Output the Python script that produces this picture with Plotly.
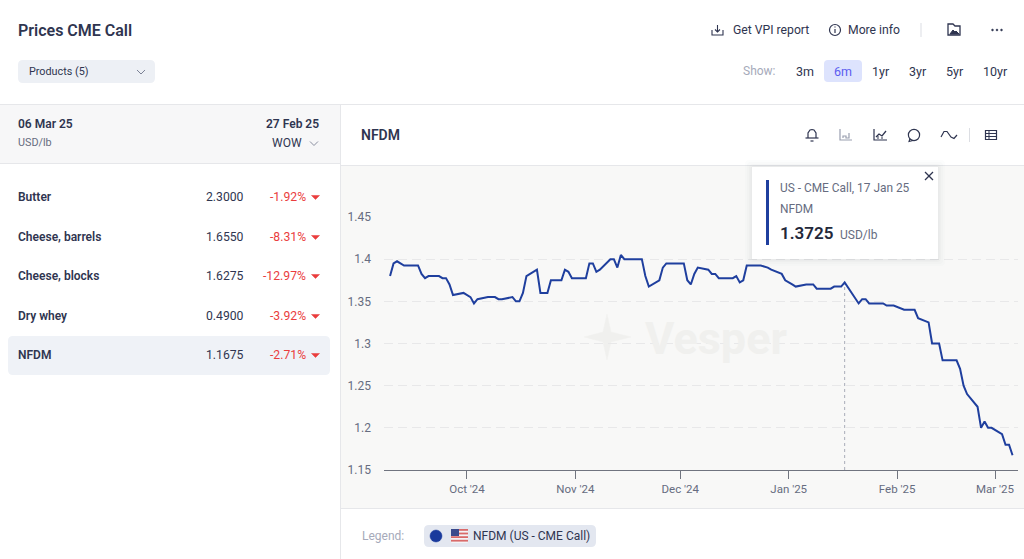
import plotly.graph_objects as go

W, H = 1024, 559

dates = [
    "2024-09-09","2024-09-10","2024-09-11","2024-09-12","2024-09-13","2024-09-16","2024-09-17","2024-09-18",
    "2024-09-19","2024-09-20","2024-09-23","2024-09-24","2024-09-25","2024-09-26","2024-09-27","2024-09-30",
    "2024-10-01","2024-10-02","2024-10-03","2024-10-04","2024-10-07","2024-10-08","2024-10-09","2024-10-10",
    "2024-10-11","2024-10-14","2024-10-15","2024-10-16","2024-10-17","2024-10-18","2024-10-21","2024-10-22",
    "2024-10-23","2024-10-24","2024-10-25","2024-10-28","2024-10-29","2024-10-30","2024-10-31",
    "2024-11-01","2024-11-04","2024-11-05","2024-11-06","2024-11-07","2024-11-08","2024-11-11","2024-11-12",
    "2024-11-13","2024-11-14","2024-11-15","2024-11-18","2024-11-19","2024-11-20","2024-11-21","2024-11-22",
    "2024-11-25","2024-11-26","2024-11-27","2024-11-29",
    "2024-12-02","2024-12-03","2024-12-04","2024-12-05","2024-12-06","2024-12-09","2024-12-10","2024-12-11",
    "2024-12-12","2024-12-13","2024-12-16","2024-12-17","2024-12-18","2024-12-19","2024-12-20","2024-12-23",
    "2024-12-24","2024-12-26","2024-12-27","2024-12-30","2024-12-31",
    "2025-01-02","2025-01-03","2025-01-06","2025-01-07","2025-01-08","2025-01-09","2025-01-10","2025-01-13",
    "2025-01-14","2025-01-15","2025-01-16","2025-01-17","2025-01-21","2025-01-22","2025-01-23","2025-01-24",
    "2025-01-27","2025-01-28","2025-01-29","2025-01-30","2025-01-31",
    "2025-02-03","2025-02-04","2025-02-05","2025-02-06","2025-02-07","2025-02-10","2025-02-11","2025-02-12",
    "2025-02-13","2025-02-14","2025-02-18","2025-02-19","2025-02-20","2025-02-21","2025-02-24","2025-02-25",
    "2025-02-26","2025-02-27","2025-02-28",
    "2025-03-03","2025-03-04","2025-03-05","2025-03-06",
]
nfdm = [
    1.38,1.395,1.3975,1.395,1.3925,1.3925,1.3925,1.3825,
    1.3775,1.38,1.38,1.3775,1.3775,1.37,1.3575,1.36,
    1.3575,1.355,1.3475,1.3525,1.355,1.355,1.355,1.3525,
    1.3525,1.355,1.35,1.35,1.36,1.38,1.3875,1.36,
    1.36,1.36,1.375,1.375,1.3875,1.385,1.3775,
    1.3775,1.3775,1.395,1.395,1.385,1.3875,1.4,1.4,
    1.39,1.405,1.4,1.4,1.4,1.4,1.38,1.3675,
    1.375,1.39,1.395,1.395,
    1.395,1.375,1.37,1.3825,1.39,1.3875,1.3825,1.3825,
    1.3775,1.3775,1.3775,1.38,1.3725,1.375,1.3925,1.3925,
    1.3925,1.39,1.3875,1.3825,1.375,
    1.37,1.3675,1.37,1.37,1.37,1.365,1.365,1.365,
    1.3675,1.3675,1.3675,1.3725,1.3475,1.3525,1.3525,1.3475,
    1.3475,1.3475,1.345,1.345,1.345,
    1.34,1.34,1.34,1.34,1.33,1.325,1.3,1.3,
    1.3,1.28,1.28,1.27,1.25,1.24,1.225,1.2,
    1.2075,1.2,1.2,
    1.1925,1.18,1.18,1.1675,
]
products = ["Butter", "Cheese, barrels", "Cheese, blocks", "Dry whey", "NFDM"]
prices = ["2.3000", "1.6550", "1.6275", "0.4900", "1.1675"]
changes = ["-1.92%", "-8.31%", "-12.97%", "-3.92%", "-2.71%"]
periods = ["3m", "6m", "1yr", "3yr", "5yr", "10yr"]
y_ticks = [1.15, 1.2, 1.25, 1.3, 1.35, 1.4, 1.45]
y_labels = ["1.15", "1.2", "1.25", "1.3", "1.35", "1.4", "1.45"]

FONT = "Roboto, Inter, sans-serif"
INK = "#2f3550"
GREY = "#666c80"
LIGHT = "#a6aaba"
BORDER = "#e6e7ea"
NAVY = "#1f3f9e"
RED = "#ea3d3d"

def X(v): return v / W
def Y(v): return 1 - v / H

shapes, notes = [], []

def build(cmds):
    out = []
    for c in cmds:
        vals = c[1:]
        pts = [f"{X(vals[i]):.5f},{Y(vals[i+1]):.5f}" for i in range(0, len(vals), 2)]
        out.append(c[0] + " ".join(pts))
    return " ".join(out)

def rect(x0, y0, x1, y1, fill, layer="below"):
    shapes.append(dict(type="rect", xref="paper", yref="paper", x0=X(x0), x1=X(x1), y0=Y(y0), y1=Y(y1),
                       fillcolor=fill, line=dict(width=0), layer=layer))

def rrect(x0, y0, x1, y1, r, fill, layer="below"):
    k = [("M", x0 + r, y0), ("L", x1 - r, y0), ("Q", x1, y0, x1, y0 + r), ("L", x1, y1 - r), ("Q", x1, y1, x1 - r, y1),
         ("L", x0 + r, y1), ("Q", x0, y1, x0, y1 - r), ("L", x0, y0 + r), ("Q", x0, y0, x0 + r, y0)]
    shapes.append(dict(type="path", xref="paper", yref="paper", path=build(k) + " Z", fillcolor=fill,
                       line=dict(width=0), layer=layer))

def stroke(points, color=INK, width=1.2, close=False, fill=None, layer="above"):
    cmds = [("M",) + points[0]] + [("L",) + p for p in points[1:]]
    shapes.append(dict(type="path", xref="paper", yref="paper", path=build(cmds) + (" Z" if close else ""),
                       line=dict(color=color, width=width), fillcolor=fill or "rgba(0,0,0,0)", layer=layer))

def circle(cx, cy, r, fill="rgba(0,0,0,0)", color=INK, width=1.2):
    shapes.append(dict(type="circle", xref="paper", yref="paper", x0=X(cx - r), x1=X(cx + r), y0=Y(cy - r), y1=Y(cy + r),
                       fillcolor=fill, line=dict(color=color, width=width), layer="above"))

def text(x, y, s, size=12, color=INK, anchor="left", weight=400):
    nudge = {"left": -1, "right": 1, "center": 0}[anchor]
    notes.append(dict(xref="paper", yref="paper", x=X(x + nudge), y=Y(y), text=s, showarrow=False, xanchor=anchor,
                      yanchor="middle", borderpad=0, font=dict(family=FONT, size=size, color=color, weight=weight)))

# panels
rect(0, 105, 340, 163, "#f7f7f8")
rect(341, 166, 1024, 508, "#f8f8f7")
rect(0, 104, 1024, 105, BORDER)
rect(0, 163, 340, 164, BORDER)
rect(341, 165, 1024, 166, BORDER)
rect(341, 508, 1024, 509, BORDER)
rect(340, 105, 341, 559, BORDER)
rrect(8, 336, 330, 375, 5, "#eff2f7")

# header
text(18, 30, "Prices CME Call", 16, INK, weight=600)
rrect(18, 60, 155, 83, 5, "#edf0f5")
text(29, 71.5, "Products (5)", 10.8, INK)
stroke([(137, 70), (141, 74), (145, 70)], "#7b8195", 1)
text(733, 30, "Get VPI report", 12.2, INK)
stroke([(712, 30), (712, 35), (723, 35), (723, 30)], INK, 1.1)
stroke([(717.5, 25), (717.5, 32)], INK, 1.1)
stroke([(715, 29.5), (717.5, 32), (720, 29.5)], INK, 1.1)
circle(835, 30, 5.5)
stroke([(835, 29), (835, 33)], INK, 1.2)
stroke([(835, 26.5), (835, 27.5)], INK, 1.2)
text(848, 30, "More info", 12.2, INK)
rect(920.5, 23, 921.5, 37, "#dcdee3")
stroke([(948, 24), (953, 24), (955, 26), (960, 26), (960, 35), (948, 35)], INK, 1.3, close=True)
stroke([(950, 34), (953, 30), (955, 32), (956, 31), (959, 34)], INK, 1, close=True, fill=INK)
for cx in (992.5, 997, 1001.5):
    circle(cx, 30, 0.9, fill=INK, width=0.6)
text(743, 71, "Show:", 12, LIGHT)
rrect(824, 60, 862, 82, 4, "#dde3fd")
for lab, cx in zip(periods, [805, 843, 881, 918, 955, 995]):
    text(cx, 71, lab, 12.5, "#5b5cf0" if lab == "6m" else INK, anchor="center")

# left table
text(18, 124, "06 Mar 25", 12, INK, weight=600)
text(18, 142, "USD/lb", 10.8, GREY)
text(319, 124, "27 Feb 25", 12, INK, anchor="right", weight=600)
text(302, 143, "WOW", 12, INK, anchor="right")
stroke([(310, 141.5), (314, 145.5), (318, 141.5)], "#8a8fa0", 1)
for i, (name, price, chg) in enumerate(zip(products, prices, changes)):
    cy = [197, 237, 276, 316, 355][i]
    text(18, cy, name, 12, INK, weight=600)
    text(244, cy, price, 12.2, INK, anchor="right")
    text(306, cy, chg, 12.2, RED, anchor="right")
    stroke([(311.5, cy - 1.5), (319.5, cy - 1.5), (315.5, cy + 2.5)], RED, 0.5, close=True, fill=RED)

# chart head
text(361, 135, "NFDM", 14, INK, weight=600)
stroke([(808, 138), (808, 133), (810, 130), (812, 129.5), (814, 130), (816, 133), (816, 138)], INK, 1.2)
stroke([(805.5, 138), (818.5, 138)], INK, 1.2)
stroke([(810.5, 141), (813.5, 141)], INK, 1.2)
stroke([(840, 129), (840, 140), (852, 140)], "#9a9fb0", 1.2)
stroke([(843, 138), (843, 136), (846, 136), (846, 138), (849, 138), (849, 133)], "#9a9fb0", 1.2)
stroke([(874, 129), (874, 140), (887, 140)], INK, 1.2)
stroke([(876, 137), (879, 134), (882, 136), (886, 131)], INK, 1.3)
stroke([(878, 139), (878, 136)], INK, 1)
stroke([(882, 139), (882, 137)], INK, 1)
circle(914, 135, 5.6)
stroke([(910, 138.5), (909, 141.5), (913, 140.5)], INK, 1.1)
stroke([(941, 137), (944, 131.5), (947, 131.5), (951, 137), (954, 138.5), (957, 135)], INK, 1.2)
rect(969, 128, 970, 142, "#dcdee3")
stroke([(985.5, 130.5), (996.5, 130.5), (996.5, 139.5), (985.5, 139.5)], INK, 1.2, close=True)
stroke([(985.5, 133.5), (996.5, 133.5)], INK, 1)
stroke([(985.5, 136.5), (996.5, 136.5)], INK, 1)
stroke([(989, 130.5), (989, 139.5)], INK, 1)

# watermark
stroke([(607, 314), (611, 332), (631, 337), (611, 342), (607, 360), (603, 342), (584, 337), (603, 332)],
       "#f0f0ee", 0.5, close=True, fill="#f0f0ee", layer="below")
text(645, 338, "Vesper", 45, "#f0f0ee", weight=700)

# tooltip
for g, op in ((7, 0.012), (5, 0.016), (3, 0.02), (1.5, 0.025)):
    rrect(752 - g, 167 - g, 938 + g, 259 + g, 4, f"rgba(40,45,70,{op})", layer="above")
rect(752, 167, 938, 259, "#ffffff", "above")
rect(766, 180, 769, 245, NAVY, "above")
text(780, 188, "US - CME Call, 17 Jan 25", 11.9, GREY)
text(780, 209, "NFDM", 11.9, GREY)
text(780, 233, "1.3725", 17, "#23283a", weight=600)
text(840, 234.5, "USD/lb", 12, GREY)
stroke([(925, 172), (933, 180)], INK, 1.3)
stroke([(933, 172), (925, 180)], INK, 1.3)

# legend
text(362, 536, "Legend:", 12, LIGHT)
rrect(424, 525, 596, 547, 5, "#e3e7f0")
circle(436, 536, 6, fill="#1a3a9c", color="#1a3a9c", width=0.5)
rrect(451, 529, 468, 543, 1.5, "#f3f3f6", layer="above")
for k in range(4):
    rect(451, 529 + k * 3.6, 468, 530.8 + k * 3.6, "#d96a6a", "above")
rect(451, 529, 459, 536, "#3a4a8c", "above")
text(473, 536, "NFDM (US - CME Call)", 12, INK)

# hover marker (dashed) tied to the date axis
shapes.append(dict(type="line", xref="x", yref="y", x0="2025-01-17", x1="2025-01-17", y0=1.15, y1=1.3725,
                   line=dict(color="#a9adb8", width=1, dash="3px,3px"), layer="below"))

fig = go.Figure(go.Scatter(x=dates, y=nfdm, mode="lines", line=dict(color=NAVY, width=2), hoverinfo="skip"))

fig.update_layout(
    width=W, height=H, autosize=False, margin=dict(l=0, r=0, t=0, b=0),
    paper_bgcolor="#ffffff", plot_bgcolor="rgba(0,0,0,0)", showlegend=False,
    shapes=shapes, annotations=notes, font=dict(family=FONT),
    xaxis=dict(
        domain=[X(384), X(1018)], range=["2024-09-07 06:30", "2025-03-07 13:30"], type="date", automargin=False,
        tick0="2024-10-01", dtick="M1", tickformat="%b '%y", ticks="outside", ticklen=8, tickcolor="#70747f",
        tickwidth=1, showline=True, linecolor="#70747f", linewidth=1, showgrid=False, zeroline=False,
        tickfont=dict(family=FONT, size=11.5, color=GREY),
    ),
    yaxis=dict(
        domain=[Y(470), Y(217)], range=[1.15, 1.45], tickmode="array", tickvals=y_ticks, ticktext=y_labels, automargin=False,
        showgrid=True, gridcolor="#e8e8e9", griddash="9px,5px", gridwidth=1, zeroline=False, showline=False,
        ticks="", ticklabelstandoff=12, tickfont=dict(family=FONT, size=12, color=GREY),
    ),
)
fig.write_html("out.html", config=dict(displayModeBar=False), post_script="document.body.style.margin='0';document.documentElement.style.overflow='hidden';")
